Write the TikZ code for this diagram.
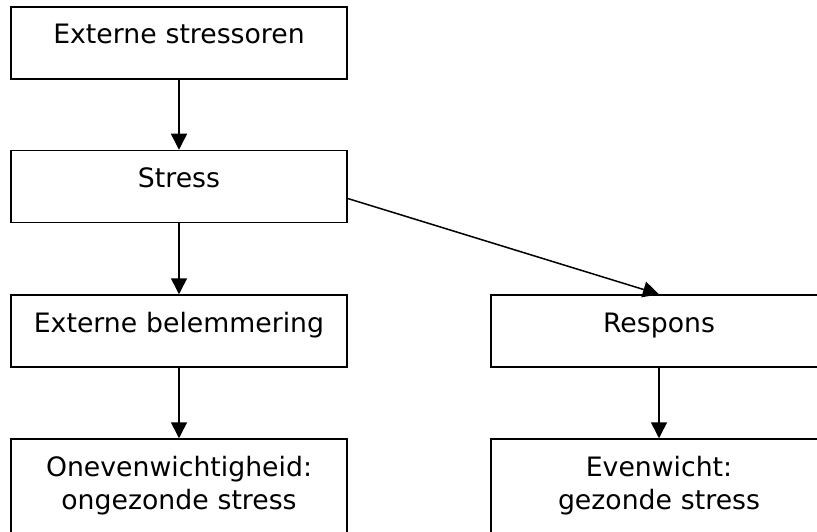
\documentclass[tikz,border=0pt]{standalone}
\usepackage{fontspec}
\setmainfont{DejaVu Sans}
\usetikzlibrary{arrows.meta}

\tikzset{
	box/.style={draw, line width=1.5pt, minimum width=336pt, minimum height=72pt, inner sep=0pt},
	boxtext/.style={anchor=base, text width=330pt, align=center, inner sep=0pt, font=\fontsize{26.7}{33}\selectfont},
	arr/.style={line width=1.5pt, -{Triangle[length=16pt,width=16pt]}}
}

\begin{document}
\begin{tikzpicture}[x=1pt,y=-1pt]
	\clip (0,0) rectangle (817,532);

	\node[box] (extern) at (179,43) {};
	\node[box] (stress) at (179,186.5) {};
	\node[box] (belem) at (179,331) {};
	\node[box] (respons) at (659,331) {};
	\node[box, minimum height=110pt] (oneven) at (179,494) {};
	\node[box, minimum height=110pt] (evenw) at (659,494) {};

	\node[boxtext] (t-extern) at ([yshift=-37pt]extern.north) {Externe stressoren};
	\node[boxtext] (t-stress) at ([yshift=-38pt]stress.north) {Stress};
	\node[boxtext] (t-belem) at ([yshift=-38pt]belem.north) {Externe belemmering};
	\node[boxtext] (t-respons) at ([yshift=-38pt]respons.north) {Respons};
	\node[boxtext] (t-oneven) at ([yshift=-38pt]oneven.north) {Onevenwichtigheid:\\ongezonde stress};
	\node[boxtext] (t-evenw) at ([yshift=-38pt]evenw.north) {Evenwicht:\\gezonde stress};

	\draw[arr] (extern) -- (stress);
	\draw[arr] (stress) -- (belem);
	\draw[arr] ([yshift=-12pt]stress.east) -- (respons.north);
	\draw[arr] (belem) -- (oneven);
	\draw[arr] (respons) -- (evenw);
\end{tikzpicture}
\end{document}
